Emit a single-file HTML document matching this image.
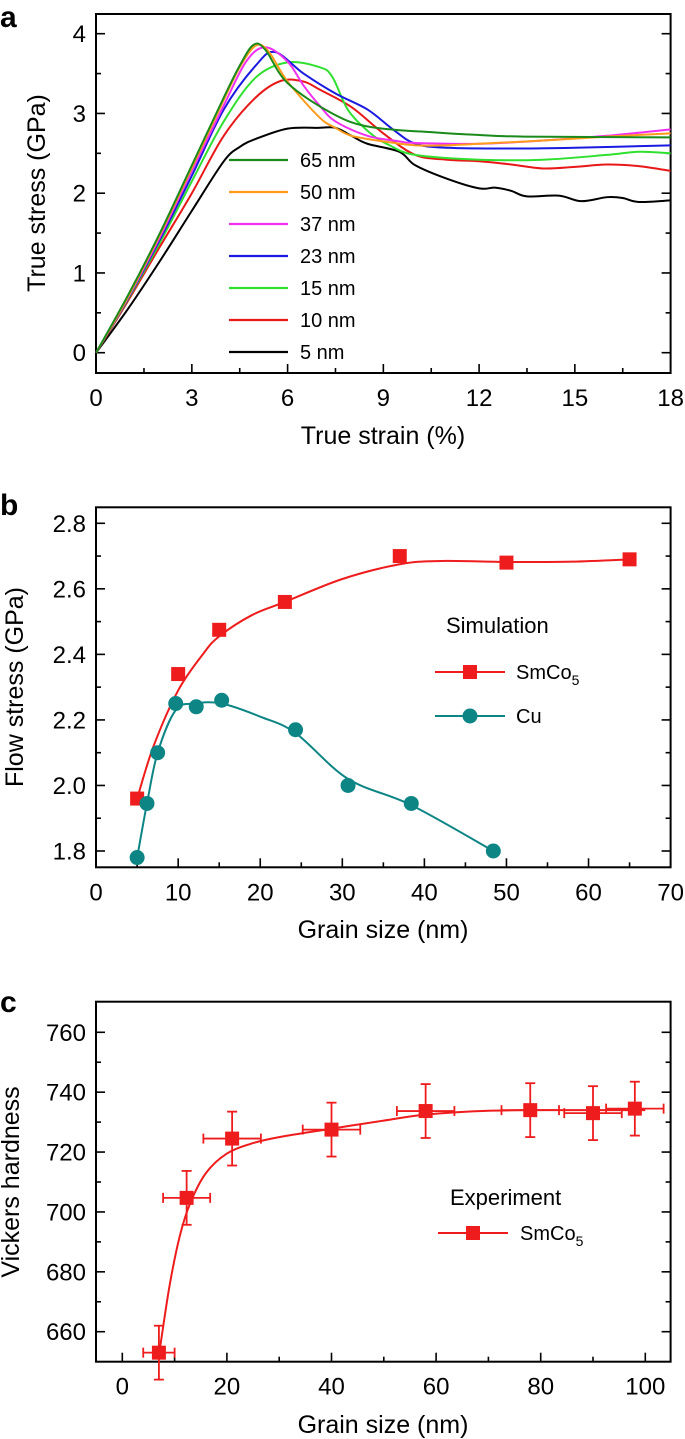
<!DOCTYPE html>
<html><head><meta charset="utf-8"><style>
html,body{margin:0;padding:0;background:#fff;}
svg{display:block;font-family:"Liberation Sans",Arial,sans-serif;}
</style></head><body>
<svg id="fig" width="685" height="1439" viewBox="0 0 685 1439" xmlns="http://www.w3.org/2000/svg">
<text x="0" y="27" font-size="30" font-weight="bold">a</text>
<text x="0" y="515" font-size="30" font-weight="bold">b</text>
<text x="0" y="1012" font-size="30" font-weight="bold">c</text>
</svg>
<script>
// ---------- Panel a data ----------
const aLabels = ["65 nm","50 nm","37 nm","23 nm","15 nm","10 nm","5 nm"];
const aColors = ["#1a8a1a","#ff9a1a","#f030f0","#1a1ae0","#30e030","#e81818","#000000"];
const a65x = [0,1,2,3,4,4.5,4.93,5.3,6,7.4,8.6,10.7,12,13.4,18];
const a65y = [0,0.72,1.5,2.35,3.2,3.6,3.86,3.8,3.38,3.0,2.83,2.76,2.73,2.71,2.70];
const a50x = [0,1,2,3,4,4.5,5.0,5.4,6,7,7.5,8,9,10,11,12,14,16,18];
const a50y = [0,0.7,1.48,2.32,3.17,3.58,3.85,3.78,3.4,2.95,2.82,2.72,2.65,2.6,2.6,2.62,2.66,2.71,2.75];
const a37x = [0,1,2,3,4,4.7,5.3,6,6.5,7,7.5,8.5,9.5,10,12,14,16,18];
const a37y = [0,0.69,1.45,2.28,3.1,3.65,3.83,3.65,3.35,3.1,2.9,2.72,2.65,2.63,2.62,2.66,2.72,2.8];
const a23x = [0,1,2,3,4,5,5.6,6.5,7.5,8.5,9.3,10,11,13,15,18];
const a23y = [0,0.68,1.42,2.22,3.05,3.6,3.77,3.5,3.25,3.05,2.8,2.62,2.57,2.56,2.57,2.6];
const a15x = [0,1,2,3,4,5,6,7,7.4,7.9,8.6,9.2,10,12,14,16,17,18];
const a15y = [0,0.67,1.38,2.15,2.9,3.45,3.64,3.58,3.46,3.04,2.75,2.6,2.48,2.42,2.42,2.48,2.52,2.5];
const a10x = [0,1,2,3,4,5,5.8,6.5,7,8,9,10,11,12,13,14,15,16,17,18];
const a10y = [0,0.65,1.33,2.0,2.72,3.2,3.41,3.4,3.3,3.08,2.75,2.48,2.42,2.4,2.36,2.31,2.33,2.36,2.34,2.28];
const a5x = [0,1,2,3,4,4.5,5,6,7,7.5,8,8.5,9.5,10,11,12,12.5,13,13.5,14.5,15.2,16,16.5,17,18];
const a5y = [0,0.55,1.15,1.78,2.4,2.58,2.68,2.81,2.82,2.82,2.72,2.62,2.52,2.35,2.18,2.06,2.07,2.03,1.96,1.97,1.9,1.95,1.94,1.89,1.91];
const aSeriesX = [a65x,a50x,a37x,a23x,a15x,a10x,a5x];
const aSeriesY = [a65y,a50y,a37y,a23y,a15y,a10y,a5y];
const aXTicks = [0,3,6,9,12,15,18];
const aYTicks = [0,1,2,3,4];

// ---------- Panel b data ----------
const bSmX = [5,10,15,23,37,50,65];
const bSmY = [1.96,2.34,2.475,2.56,2.70,2.68,2.69];
const bCuX = [5,6.2,7.5,9.7,12.2,15.3,24.3,30.7,38.4,48.4];
const bCuY = [1.78,1.945,2.10,2.25,2.24,2.26,2.17,2.0,1.945,1.80];
const bSmFitX = [5,7,10,13,15,19,23,30,37,42,50,58,65];
const bSmFitY = [1.96,2.12,2.29,2.40,2.455,2.52,2.56,2.63,2.675,2.685,2.682,2.683,2.69];
const bCuFitX = [5,6.2,7.5,9.7,12,15.3,20,24.3,30.7,38.4,48.4];
const bCuFitY = [1.78,1.945,2.10,2.23,2.25,2.25,2.21,2.16,2.02,1.94,1.80];
const bXTicks = [0,10,20,30,40,50,60,70];
const bYTicks = [1.8,2.0,2.2,2.4,2.6,2.8];

// ---------- Panel c data ----------
const cX = [7,12.3,21,40,58,78,90,98];
const cY = [653,704.7,724.5,727.5,733.7,734,733,734.5];
const cXErr = [3,4.5,5.5,5.5,5.5,5.5,5.5,5.5];
const cYErr = [9,9,9,9,9,9,9,9];
const cFitX = [7,9,11,13,16,20,25,30,40,50,58,70,85,100];
const cFitY = [652,675,692,703,713,719.5,723,725,727.8,730.5,732.5,733.8,734,734];
const cXTicks = [0,20,40,60,80,100];
const cYTicks = [660,680,700,720,740,760];

const NS = "http://www.w3.org/2000/svg";
const svg = document.getElementById('fig');
function el(tag, attrs, parent){
  const e = document.createElementNS(NS, tag);
  for (const k in attrs) e.setAttribute(k, attrs[k]);
  (parent||svg).appendChild(e);
  return e;
}
function scale(d0,d1,r0,r1){ return v => r0 + (v-d0)*(r1-r0)/(d1-d0); }
function smooth(pts){
  let d = "M"+pts[0][0].toFixed(2)+","+pts[0][1].toFixed(2);
  for (let i=0;i<pts.length-1;i++){
    const p0=pts[i-1]||pts[i], p1=pts[i], p2=pts[i+1], p3=pts[i+2]||p2;
    const c1=[p1[0]+(p2[0]-p0[0])/6, p1[1]+(p2[1]-p0[1])/6];
    const c2=[p2[0]-(p3[0]-p1[0])/6, p2[1]-(p3[1]-p1[1])/6];
    d += " C"+c1[0].toFixed(2)+","+c1[1].toFixed(2)+" "+c2[0].toFixed(2)+","+c2[1].toFixed(2)+" "+p2[0].toFixed(2)+","+p2[1].toFixed(2);
  }
  return d;
}
function frame(L,T,R,B,xs,ys,xt,yt,xMinor,yMinor,xDom,yDom,fmtY,prefix){
  const g = el('g',{});
  
  
  const rect = el('rect',{x:L,y:T,width:R-L,height:B-T,fill:'none',stroke:'#000','stroke-width':2},g);
  
  
  for (let v=xDom[0]; v<=xDom[1]+1e-9; v+=xMinor){
    const major = xt.some(t=>Math.abs(t-v)<1e-6);
    const x = xs(v); if (x<L+1||x>R-1) continue;
    const len = major?9:5;
    const t = el('line',{x1:x,x2:x,y1:B,y2:B-len,stroke:'#000','stroke-width':1.6},g);
    
    
  }
  for (let v=yDom[0]; v<=yDom[1]+1e-9; v+=yMinor){
    const major = yt.some(t=>Math.abs(t-v)<1e-6);
    const y = ys(v); if (y<T+1||y>B-1) continue;
    const len = major?9:5;
    const t1 = el('line',{x1:L,x2:L+len,y1:y,y2:y,stroke:'#000','stroke-width':1.6},g);
    
    
    const t2 = el('line',{x1:R,x2:R-len,y1:y,y2:y,stroke:'#000','stroke-width':1.6},g);
    
    
  }
  xt.forEach(v=>{
    const t = el('text',{x:xs(v),y:B+33,'font-size':24,'text-anchor':'middle'},g);
    t.textContent = v;
    
    
  });
  yt.forEach(v=>{
    const t = el('text',{x:L-10,y:ys(v)+8.5,'font-size':24,'text-anchor':'end'},g);
    t.textContent = fmtY(v);
    
    
  });
}
function axisTitles(prefix, xTitle, xCx, xCy, yTitle, yCx, yCy){
  const xt = el('text',{x:xCx,y:xCy,'font-size':25,'text-anchor':'middle'});
  xt.textContent = xTitle;
  
  
  const yt = el('text',{x:0,y:0,'font-size':25,'text-anchor':'middle',transform:`translate(${yCx},${yCy}) rotate(-90)`});
  yt.textContent = yTitle;
  
  
  return yt;
}

// ===== Panel a =====
(function(){
  const L=96,R=670.6,T=14,B=373;
  const xs=scale(0,18,96.1,670.6), ys=scale(0,4,352.7,33.7);
  frame(L,T,R,B,xs,ys,aXTicks,aYTicks,1.5,0.5,[0,18],[-0.5,4.5],v=>String(v),'a');
  axisTitles('a','True strain (%)',383,444,'True stress (GPa)',45,193);
  for (let s=aSeriesX.length-1;s>=0;s--){
    const pts = aSeriesX[s].map((x,i)=>[xs(x),ys(aSeriesY[s][i])]);
    const p = el('path',{d:smooth(pts),fill:'none',stroke:aColors[s],'stroke-width':2});
    
    
  }
  aLabels.forEach((lab,i)=>{
    const y = 160 + i*32;
    const ln = el('line',{x1:229,x2:288,y1:y,y2:y,stroke:aColors[i],'stroke-width':2.2});
    
    
    const t = el('text',{x:300,y:y+7,'font-size':20});
    t.textContent = lab;
    
    
  });
})();

// ===== Panel b =====
(function(){
  const L=96,R=670.6,T=507.3,B=867.3;
  const xs=scale(0,70,96.1,670.6), ys=scale(1.8,2.8,851,523.3);
  frame(L,T,R,B,xs,ys,bXTicks,bYTicks,5,0.1,[0,70],[1.7,2.9],v=>v.toFixed(1),'b');
  axisTitles('b','Grain size (nm)',383,938,'Flow stress (GPa)',23,687);
  const red="#ee1c1c", teal="#0d8585";
  const fs = el('path',{d:smooth(bSmFitX.map((x,i)=>[xs(x),ys(bSmFitY[i])])),fill:'none',stroke:red,'stroke-width':2});
  
  
  const fc = el('path',{d:smooth(bCuFitX.map((x,i)=>[xs(x),ys(bCuFitY[i])])),fill:'none',stroke:teal,'stroke-width':2});
  
  
  bSmX.forEach((x,i)=>{
    const r = el('rect',{x:xs(x)-7,y:ys(bSmY[i])-7,width:14,height:14,fill:red});
    
    
  });
  bCuX.forEach((x,i)=>{
    const c = el('circle',{cx:xs(x),cy:ys(bCuY[i]),r:7.5,fill:teal});
    
    
  });
  const t1 = el('text',{x:446,y:633,'font-size':22}); t1.textContent='Simulation';
   
  const l1 = el('line',{x1:435,x2:505,y1:672,y2:672,stroke:red,'stroke-width':2});
   
  const m1 = el('rect',{x:463,y:665,width:14,height:14,fill:red});
   
  const e1 = el('text',{x:516,y:679,'font-size':20}); e1.innerHTML='SmCo<tspan font-size="14" dy="6">5</tspan>';
   
  const l2 = el('line',{x1:435,x2:505,y1:716,y2:716,stroke:teal,'stroke-width':2});
   
  const m2 = el('circle',{cx:470,cy:716,r:7.5,fill:teal});
   
  const e2 = el('text',{x:516,y:723,'font-size':20}); e2.textContent='Cu';
   
})();

// ===== Panel c =====
(function(){
  const L=96,R=670.6,T=1001.7,B=1361.7;
  const xs=scale(0,100,122.3,645.3), ys=scale(660,760,1331.7,1032.3);
  frame(L,T,R,B,xs,ys,cXTicks,cYTicks,10,10,[0,100],[650,770],v=>String(v),'c');
  axisTitles('c','Grain size (nm)',383,1433,'Vickers hardness',19,1182);
  const red="#ee1c1c";
  const f = el('path',{d:smooth(cFitX.map((x,i)=>[xs(x),ys(cFitY[i])])),fill:'none',stroke:red,'stroke-width':2});
  
  
  cX.forEach((x,i)=>{
    const px=xs(x), py=ys(cY[i]);
    const x0=xs(x-cXErr[i]), x1=xs(x+cXErr[i]);
    const y0=ys(cY[i]-cYErr[i]), y1=ys(cY[i]+cYErr[i]);
    const g = el('g',{stroke:red,'stroke-width':1.8,fill:'none'});
    
    
    el('line',{x1:x0,x2:x1,y1:py,y2:py},g);
    el('line',{x1:x0,x2:x0,y1:py-5,y2:py+5},g);
    el('line',{x1:x1,x2:x1,y1:py-5,y2:py+5},g);
    el('line',{x1:px,x2:px,y1:y0,y2:y1},g);
    el('line',{x1:px-5,x2:px+5,y1:y0,y2:y0},g);
    el('line',{x1:px-5,x2:px+5,y1:y1,y2:y1},g);
    const r = el('rect',{x:px-7,y:py-7,width:14,height:14,fill:red});
    
    
  });
  const t1 = el('text',{x:450,y:1205,'font-size':22}); t1.textContent='Experiment';
   
  const l1 = el('line',{x1:438,x2:508,y1:1233,y2:1233,stroke:red,'stroke-width':2});
   
  const m1 = el('rect',{x:466,y:1226,width:14,height:14,fill:red});
   
  const e1 = el('text',{x:520,y:1240,'font-size':20}); e1.innerHTML='SmCo<tspan font-size="14" dy="6">5</tspan>';
   
})();
</script>
</body></html>
